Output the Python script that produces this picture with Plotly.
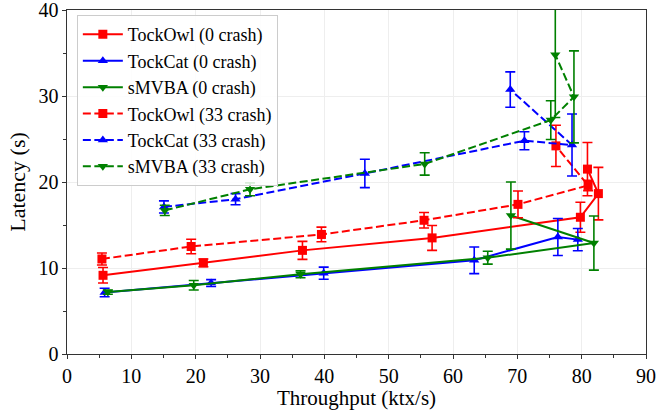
import plotly.graph_objects as go

# ---- data ----
owl0_x = [5.6, 21.2, 36.6, 56.75, 79.8, 82.6, 80.9]
owl0_y = [9.15, 10.6, 12.05, 13.5, 15.9, 18.65, 21.5]
owl0_e = [0.9, 0.45, 1.05, 1.45, 1.75, 3.05, 3.1]

cat0_x = [5.85, 22.4, 39.9, 63.3, 76.3, 79.4]
cat0_y = [7.15, 8.25, 9.4, 10.9, 13.6, 13.3]
cat0_e = [0.5, 0.4, 0.7, 1.55, 2.15, 1.3]

mvba0_x = [6.35, 19.7, 36.3, 65.4, 81.9, 69.0]
mvba0_y = [7.2, 8.0, 9.27, 11.2, 12.9, 16.1]
mvba0_e = [0.25, 0.55, 0.4, 0.75, 3.15, 3.9]

owl33_x = [5.43, 19.3, 39.55, 55.5, 70.1, 81.0, 76.0]
owl33_y = [11.05, 12.5, 13.9, 15.55, 17.4, 19.6, 24.2]
owl33_e = [0.7, 0.85, 0.85, 0.9, 1.55, 0.6, 2.4]

cat33_x = [15.07, 26.2, 46.3, 71.1, 78.5, 68.9]
cat33_y = [17.1, 18.0, 21.0, 24.8, 24.3, 30.75]
cat33_e = [0.7, 0.65, 1.65, 1.05, 3.6, 2.05]

mvba33_x = [15.2, 28.45, 55.6, 75.2, 78.8, 75.9]
mvba33_y = [16.7, 19.15, 22.1, 27.2, 29.9, 34.8]
mvba33_e = [0.6, 0.75, 1.3, 2.25, 5.35, 7.3]

x_ticks = [0, 10, 20, 30, 40, 50, 60, 70, 80, 90]
y_ticks = [0, 10, 20, 30, 40]

series = [
    ("TockOwl (0 crash)", owl0_x, owl0_y, owl0_e, "#ff0000", "square", "solid"),
    ("TockCat (0 crash)", cat0_x, cat0_y, cat0_e, "#0000ff", "triangle-up", "solid"),
    ("sMVBA (0 crash)", mvba0_x, mvba0_y, mvba0_e, "#008000", "triangle-down", "solid"),
    ("TockOwl (33 crash)", owl33_x, owl33_y, owl33_e, "#ff0000", "square", "8px,3.5px"),
    ("TockCat (33 crash)", cat33_x, cat33_y, cat33_e, "#0000ff", "triangle-up", "8px,3.5px"),
    ("sMVBA (33 crash)", mvba33_x, mvba33_y, mvba33_e, "#008000", "triangle-down", "8px,3.5px"),
]

fig = go.Figure()
for name, xs, ys, es, col, sym, dash in series:
    fig.add_trace(go.Scatter(
        x=xs, y=ys, name=name, mode="lines+markers",
        line=dict(color=col, width=2, dash=dash),
        marker=dict(symbol=sym, size=9, color=col),
        error_y=dict(type="data", array=es, visible=True, color=col,
                     thickness=1.6, width=5),
    ))

font_family = "Liberation Serif"
axis_common = dict(
    showline=True, linecolor="#333333", linewidth=1.2, mirror=True,
    ticks="outside", ticklen=3.5, tickcolor="#333333",
    showgrid=True, gridcolor="#eeeeee", gridwidth=1, zeroline=False,
    tickfont=dict(family=font_family, size=20, color="black"),
    ticklabeloverflow="allow", automargin=False,
    minor=dict(ticks="outside", ticklen=2.5, tickcolor="#333333", showgrid=False),
)

fig.update_xaxes(range=[0, 90], tickmode="array", tickvals=x_ticks,
                 minor_dtick=5, minor_tick0=0,
                 title=dict(text="Throughput (ktx/s)", standoff=0,
                            font=dict(family=font_family, size=21, color="black")),
                 **axis_common)
fig.update_yaxes(range=[0, 40], tickmode="array", tickvals=y_ticks,
                 minor_dtick=5, minor_tick0=0,
                 title=dict(text="Latency (s)", standoff=6,
                            font=dict(family=font_family, size=22, color="black")),
                 **axis_common)

fig.update_layout(
    width=672, height=410,
    margin=dict(l=67, r=26, t=10, b=56),
    plot_bgcolor="white", paper_bgcolor="white",
    font=dict(family=font_family, color="black"),
    legend=dict(x=0.017, y=0.985, xanchor="left", yanchor="top",
                bgcolor="rgba(255,255,255,0.85)", bordercolor="#cccccc", borderwidth=1,
                font=dict(family=font_family, size=18, color="black"),
                itemwidth=40, tracegroupgap=0),
    showlegend=True,
)

fig.write_html("out.html", config={"displayModeBar": False},
               post_script="document.body.style.margin='0';document.body.style.padding='0';")
